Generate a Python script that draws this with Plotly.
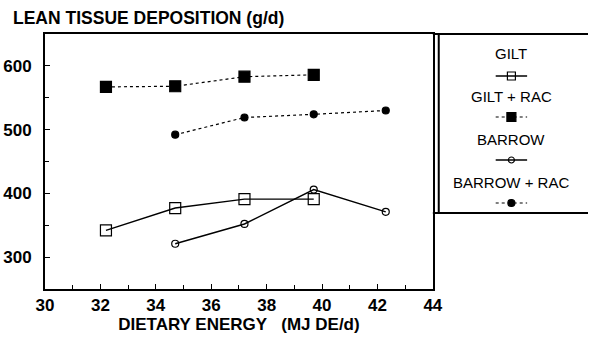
import plotly.graph_objects as go

# Dietary energy intake (MJ DE/d) for each treatment group
energy = [32.2, 34.7, 37.2, 39.7]
energy_barrow = [34.7, 37.2, 39.7, 42.3]

# Lean tissue deposition (g/d)
gilt = [342, 377, 391, 391]
gilt_rac = [567, 568, 583, 586]
barrow = [321, 352, 406, 371]
barrow_rac = [492, 519, 524, 530]

legend_names = ["GILT", "GILT + RAC", "BARROW", "BARROW + RAC"]

W, H = 598, 338
LEFT, BOTTOM, TOP = 45, 289, 34
PW, PH = W - LEFT, BOTTOM - TOP


def px(x):
    return (x - LEFT) / PW


def py(y):
    return (BOTTOM - y) / PH


FONT = "Liberation Sans"
BLACK = "#000000"

solid = dict(color=BLACK, width=1.4)
dotted = dict(color=BLACK, width=1.2, dash="dot")
styles = [
    (solid, "square-open", 11, 8),
    (dotted, "square", 11, 9),
    (solid, "circle-open", 7, 6),
    (dotted, "circle", 7, 7),
]
series = [(energy, gilt), (energy, gilt_rac), (energy_barrow, barrow), (energy_barrow, barrow_rac)]

fig = go.Figure()
for (xs, ys), name, (ln, sym, size, _) in zip(series, legend_names, styles):
    fig.add_trace(go.Scatter(x=xs, y=ys, name=name, mode="lines+markers",
                             line=ln,
                             marker=dict(symbol=sym, size=size, color=BLACK,
                                         line=dict(color=BLACK, width=1.2)),
                             showlegend=False, cliponaxis=False))

# Hand-drawn key: label above a short sample of each line style
key_x = 520
key_text_y = [53, 96, 139, 182]
key_sym_y = [76, 117, 160, 203]
for name, (ln, sym, _, ksize), ty, sy in zip(legend_names, styles, key_text_y, key_sym_y):
    fig.add_trace(go.Scatter(x=[key_x - 16, key_x + 16], y=[sy, sy], mode="lines",
                             xaxis="x2", yaxis="y2", line=ln,
                             showlegend=False, hoverinfo="skip"))
    fig.add_trace(go.Scatter(x=[key_x], y=[sy], mode="markers", xaxis="x2", yaxis="y2",
                             marker=dict(symbol=sym, size=ksize, color=BLACK,
                                         line=dict(color=BLACK, width=1.2)),
                             showlegend=False, hoverinfo="skip"))
    fig.add_annotation(x=key_x, y=ty, xref="x2", yref="y2", text=name, showarrow=False,
                       font=dict(family=FONT, size=15, color=BLACK),
                       xanchor="center", yanchor="middle")

fig.add_annotation(x=px(10), y=py(18), xref="paper", yref="paper",
                   text="LEAN TISSUE DEPOSITION (g/d)", showarrow=False,
                   xanchor="left", yanchor="middle",
                   font=dict(family=FONT, size=17.5, color=BLACK, weight="bold"))

# Key frame
frame = dict(color=BLACK, width=2)
fig.add_shape(type="line", xref="paper", yref="paper", x0=px(440), x1=px(598), y0=py(34), y1=py(34), line=frame)
fig.add_shape(type="line", xref="paper", yref="paper", x0=px(446), x1=px(446), y0=py(34), y1=py(213), line=frame)
fig.add_shape(type="line", xref="paper", yref="paper", x0=px(440), x1=px(598), y0=py(213), y1=py(213), line=frame)

fig.update_layout(
    width=W, height=H,
    margin=dict(l=LEFT, r=0, t=TOP, b=H - BOTTOM),
    paper_bgcolor="white", plot_bgcolor="white",
    font=dict(family=FONT, color=BLACK),
    xaxis=dict(domain=[0, px(440)], range=[30, 44], dtick=2, tick0=30,
               ticks="inside", ticklen=5, tickwidth=1.2, tickcolor=BLACK,
               minor=dict(dtick=1, ticks="inside", ticklen=4, tickcolor=BLACK),
               showline=True, linecolor=BLACK, linewidth=2, mirror=True,
               showgrid=False, zeroline=False,
               tickfont=dict(family=FONT, size=17, weight="bold"),
               title=dict(text="DIETARY ENERGY\u00a0\u00a0\u00a0(MJ DE/d)", standoff=2,
                          font=dict(family=FONT, size=17, weight="bold"))),
    yaxis=dict(range=[250, 650], dtick=100, tick0=0,
               ticks="inside", ticklen=5, tickwidth=1.2, tickcolor=BLACK,
               minor=dict(dtick=50, ticks="inside", ticklen=4, tickcolor=BLACK),
               showline=True, linecolor=BLACK, linewidth=2, mirror=True,
               showgrid=False, zeroline=False, ticklabelstandoff=8,
               tickfont=dict(family=FONT, size=17, weight="bold")),
    xaxis2=dict(domain=[px(440), 1], range=[440, 598], visible=False, anchor="y2"),
    yaxis2=dict(domain=[py(213), 1], range=[213, 34], visible=False, anchor="x2"),
)

fig.write_html("out.html")
